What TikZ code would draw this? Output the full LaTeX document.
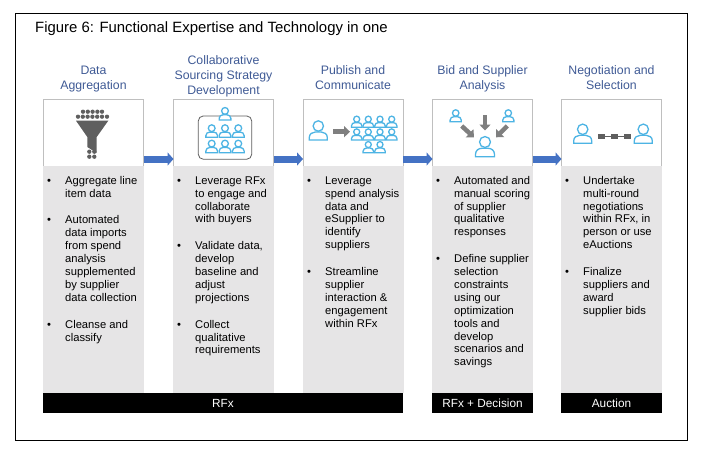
\documentclass[tikz,border=0pt]{standalone}
\usepackage{fontspec}
\setmainfont{Liberation Sans}
\usepackage{tikz}
\usetikzlibrary{
  arrows.meta, positioning, calc
}
\usepackage{xcolor}
\definecolor{HeadBlue}{HTML}{3F5A95}
\definecolor{FlowBlue}{HTML}{4472C4}
\definecolor{IconBlue}{HTML}{4DB4E4}
\definecolor{IconGrey}{HTML}{5F5F5F}
\definecolor{ArrowGrey}{HTML}{7F7F7F}
\definecolor{PanelGrey}{HTML}{E6E5E6}
\definecolor{EdgeGrey}{HTML}{BFBFBF}
\newcommand{\stepitem}[1]{\makebox[18pt][l]{\textbullet}\begin{tabular}[t]{@{}l@{}}#1\end{tabular}}
\tikzset{
  % Icon box on top of each column
  iconbox/.style={
    rectangle, draw=EdgeGrey, fill=white, line width=0.7pt,
    minimum width=100pt, minimum height=67pt,
    inner sep=0pt, outer sep=0pt
  },
  % Grey panel behind the bullets
  panel/.style={
    rectangle, fill=PanelGrey, minimum width=101pt,
    minimum height=226.6pt, inner sep=0pt, outer sep=0pt
  },
  % Bullet text
  itemtext/.style={
    anchor=north west, align=left, inner sep=0pt,
    font=\fontsize{11.2}{12.9}\selectfont
  },
  % Column heading
  heading/.style={
    align=center, text=HeadBlue, inner sep=0pt,
    font=\fontsize{12.3}{15}\selectfont
  },
  % Black bar at the bottom
  stepbar/.style={
    rectangle, fill=black, text=white, minimum height=20pt,
    inner sep=0pt, outer sep=0pt, anchor=north west,
    font=\fontsize{11.8}{13}\selectfont
  },
  % Arrow between columns
  flow/.style={
    -{Triangle[length=6pt,width=13pt]}, line width=7pt, draw=FlowBlue
  },
  % Arrow inside an icon
  iconarrow/.style={
    -{Triangle[length=6pt,width=11pt]}, line width=4.5pt, draw=ArrowGrey
  },
  dot/.style={circle, fill=IconGrey, inner sep=0pt, minimum size=4.3pt},
  link/.style={rectangle, fill=IconGrey, inner sep=0pt, minimum width=7pt, minimum height=5pt},
  pics/person/.style={
    code={
      \draw[IconBlue, line width=1.3pt, fill=white]
        (-9,0) -- (9,0) -- (9,-2.5) .. controls (9,-6) and (6,-8) .. (3,-8)
        -- (-3,-8) .. controls (-6,-8) and (-9,-6) .. (-9,-2.5) -- cycle;
      \draw[IconBlue, line width=1.3pt, fill=white] (0,-14) circle [radius=5.2];
    }
  }
}
\begin{document}
\begin{tikzpicture}[x=1pt, y=-1pt, node distance=29pt]

\useasboundingbox (0,0) rectangle (702,450);

% Frame and title
\node[draw=black, line width=0.8pt, minimum width=672pt, minimum height=427pt,
      inner sep=0pt, anchor=north west] (frame) at (15,13) {};
\node[anchor=west, inner sep=0pt, font=\fontsize{14.9}{17}\selectfont] (title) at (35,29)
  {Figure 6: Functional Expertise and Technology in one};

% Columns
\node[iconbox] (head1) at (93.5,132.5) {};
\node[iconbox, right=30pt of head1] (head2) {};
\node[iconbox, right=29.5pt of head2] (head3) {};
\node[iconbox, right=29.5pt of head3] (head4) {};
\node[iconbox, right=29pt of head4] (head5) {};

\node[panel, below=0.4pt of head1] (panel1) {};
\node[panel, below=0.4pt of head2] (panel2) {};
\node[panel, below=0.4pt of head3] (panel3) {};
\node[panel, below=0.4pt of head4] (panel4) {};
\node[panel, below=0.4pt of head5] (panel5) {};

% Headings
\node[heading, above=7pt of head1] (title1) {Data\\Aggregation};
\node[heading, above=2pt of head2] (title2) {Collaborative\\Sourcing Strategy\\Development};
\node[heading, above=9pt of head3] (title3) {Publish and\\Communicate};
\node[heading, above=7pt of head4] (title4) {Bid and Supplier\\Analysis};
\node[heading, above=9pt of head5] (title5) {Negotiation and\\Selection};

% Bullets
\node[itemtext] (list1) at (47,175) {%
  \stepitem{Aggregate line\\item data}\\[12.9pt]
  \stepitem{Automated\\data imports\\from spend\\analysis\\supplemented\\by supplier\\data collection}\\[12.9pt]
  \stepitem{Cleanse and\\classify}};
\node[itemtext] (list2) at (177,175) {%
  \stepitem{Leverage RFx\\to engage and\\collaborate\\with buyers}\\[12.9pt]
  \stepitem{Validate data,\\develop\\baseline and\\adjust\\projections}\\[12.9pt]
  \stepitem{Collect\\qualitative\\requirements}};
\node[itemtext] (list3) at (307,175) {%
  \stepitem{Leverage\\spend analysis\\data and\\eSupplier to\\identify\\suppliers}\\[12.9pt]
  \stepitem{Streamline\\supplier\\interaction \&\\engagement\\within RFx}};
\node[itemtext] (list4) at (436,175) {%
  \stepitem{Automated and\\manual scoring\\of supplier\\qualitative\\responses}\\[12.9pt]
  \stepitem{Define supplier\\selection\\constraints\\using our\\optimization\\tools and\\develop\\scenarios and\\savings}};
\node[itemtext] (list5) at (565,175) {%
  \stepitem{Undertake\\multi-round\\negotiations\\within RFx, in\\person or use\\eAuctions}\\[12.9pt]
  \stepitem{Finalize\\suppliers and\\award\\supplier bids}};

% Black bars
\node[stepbar, minimum width=360pt] (rfx) at (panel1.south west) {RFx};
\node[stepbar, minimum width=101pt] (decision) at (panel4.south west) {RFx + Decision};
\node[stepbar, minimum width=101pt] (auction) at (panel5.south west) {Auction};

% Arrows between columns
\draw[flow] ([yshift=7pt]head1.south east) -- ([yshift=7pt]head2.south west);
\draw[flow] ([yshift=7pt]head2.south east) -- ([yshift=7pt]head3.south west);
\draw[flow] ([yshift=7pt]head3.south east) -- ([yshift=7pt]head4.south west);
\draw[flow] ([yshift=7pt]head4.south east) -- ([yshift=7pt]head5.south west);

% Funnel icon
\foreach \x in {83,87.8,92.6,97.4,102} \node[dot] (topdot\x) at (\x,111.7) {};
\foreach \x in {78,82.8,87.6,92.4,97.2,102,107} \node[dot] (middot\x) at (\x,116.7) {};
\fill[IconGrey] (76,120.7) -- (108.3,120.7) -- (96.7,137) -- (96.7,153)
  -- (87.3,147) -- (87.3,137) -- cycle;
\foreach \x in {89.3,94.3} \foreach \y in {151.7,156.7} \node[dot] (lowdot\x-\y) at (\x,\y) {};

% Team icon
\node[draw=IconGrey, line width=0.8pt, rounded corners=5pt, minimum width=53.4pt,
      minimum height=43.3pt, inner sep=0pt] (team) at (225,137.6) {};
\pic[scale=.65] at (225,120) {person};
\foreach \x in {211.7,225,238.3} \foreach \y in {137.3,152.7}
  \pic[scale=.65] at (\x,\y) {person};

% Publish icon
\pic at (318.3,140) {person};
\coordinate (pubfrom) at (333.3,131.7);
\coordinate (pubto) at (350,131.7);
\draw[iconarrow] (pubfrom) -- (pubto);
\foreach \x in {356.7,368.3,380,391.7} \foreach \y in {127.3,140}
  \pic[scale=.58] at (\x,\y) {person};
\foreach \x in {368.3,380} \pic[scale=.58] at (\x,152.7) {person};

% Bid icon
\pic[scale=.62] at (455.7,121.7) {person};
\pic[scale=.62] at (508.3,121.7) {person};
\pic[scale=1.05] at (485,156.7) {person};
\coordinate (bidtop) at (485,115);
\coordinate (bidtopend) at (485,130.5);
\coordinate (bidleft) at (461.7,126);
\coordinate (bidleftend) at (474,137.3);
\coordinate (bidright) at (507.3,126);
\coordinate (bidrightend) at (496,137.3);
\draw[iconarrow] (bidtop) -- (bidtopend);
\draw[iconarrow] (bidleft) -- (bidleftend);
\draw[iconarrow] (bidright) -- (bidrightend);

% Negotiation icon
\pic at (582.7,143.3) {person};
\pic at (643.3,143.3) {person};
\node[link] (link1) at (601.7,136.7) {};
\node[link] (link2) at (614.3,136.7) {};
\node[link] (link3) at (627.7,136.7) {};
\draw[IconGrey, line width=0.7pt] (link1) -- (link2);
\draw[IconGrey, line width=0.7pt] (link2) -- (link3);

\end{tikzpicture}
\end{document}
